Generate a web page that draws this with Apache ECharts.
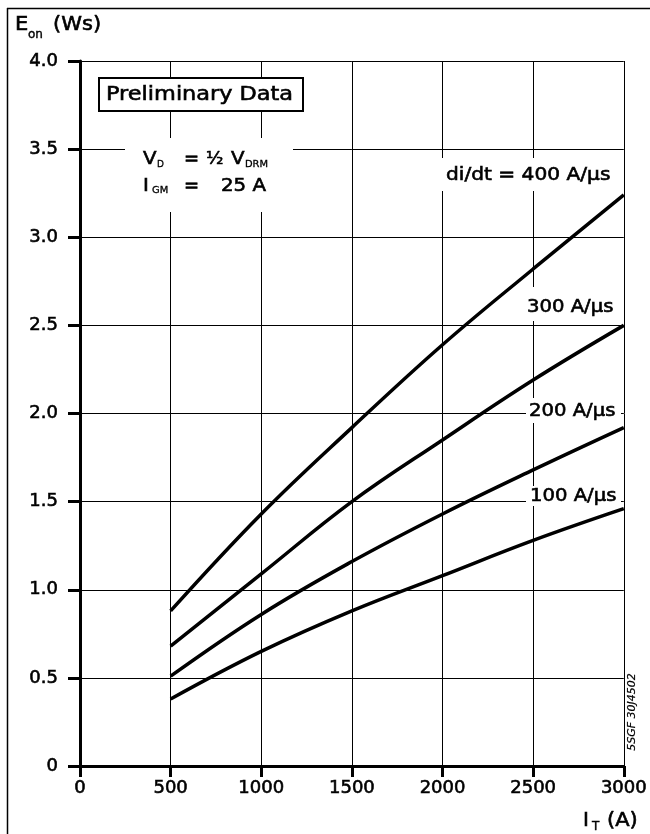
<!DOCTYPE html>
<html>
<head>
<meta charset="utf-8">
<script src="https://cdn.jsdelivr.net/npm/echarts@6/dist/echarts.min.js"></script>
<style>html,body{margin:0;padding:0;background:#fff}#c{width:650px;height:834px}</style>
</head>
<body>
<div id="c"></div>
<script>
// ---- data ----
const currentA = [500, 1000, 1500, 2000, 2500, 3000];
const eon400 = [0.88, 1.43, 1.92, 2.39, 2.82, 3.24];
const eon300 = [0.68, 1.09, 1.50, 1.85, 2.19, 2.50];
const eon200 = [0.51, 0.86, 1.16, 1.43, 1.68, 1.92];
const eon100 = [0.38, 0.65, 0.88, 1.08, 1.28, 1.46];
const seriesNames = ['400 A/μs', '300 A/μs', '200 A/μs', '100 A/μs'];
const xTicks = [0, 500, 1000, 1500, 2000, 2500, 3000];
const yTicks = [0, 0.5, 1.0, 1.5, 2.0, 2.5, 3.0, 3.5, 4.0];

const FONT = 'DejaVu Sans';
const SW = 0.6; // slight stroke to thicken glyphs
const chart = echarts.init(document.getElementById('c'), null, {renderer: 'canvas'});

function pairs(ys) { return currentA.map((x, i) => [x, ys[i]]); }
function lineSeries(name, ys) {
  return {
    name: name, type: 'line', data: pairs(ys), smooth: 0.4,
    showSymbol: false, symbol: 'none',
    lineStyle: {color: '#000', width: 3.5},
    z: 3
  };
}
function txt(x, y, text, size, opts) {
  opts = opts || {};
  return {
    type: 'text', x: x, y: y, z: 60,
    scaleX: opts.sx || 1, scaleY: 1,
    rotation: opts.rot || 0,
    style: {
      text: text,
      font: (opts.italic ? 'italic ' : '') + size + 'px "' + FONT + '"',
      fill: '#000',
      stroke: '#000', lineWidth: opts.sw != null ? opts.sw : SW,
      align: opts.align || 'left', verticalAlign: 'middle',
      textAlign: opts.align || 'left', textVerticalAlign: 'middle'
    }
  };
}
function box(x, y, w, h, border) {
  return {
    type: 'rect', z: 55,
    shape: {x: x, y: y, width: w, height: h},
    style: {fill: '#fff', stroke: border ? '#000' : null, lineWidth: border ? 2 : 0}
  };
}

const labelStyle = {fontSize: 18, fontFamily: FONT, color: '#000',
  textBorderColor: '#000', textBorderWidth: SW};

const option = {
  animation: false,
  backgroundColor: '#fff',
  grid: {left: 80, right: 24, top: 61, bottom: 68, containLabel: false},
  xAxis: {
    type: 'value', min: xTicks[0], max: xTicks[xTicks.length - 1], interval: 500,
    axisLine: {show: true, onZero: false, lineStyle: {color: '#000', width: 3}},
    axisTick: {show: true, length: 11, lineStyle: {color: '#000', width: 3}},
    axisLabel: Object.assign({margin: 13, formatter: v => String(v)}, labelStyle),
    splitLine: {show: true, lineStyle: {color: '#000', width: 1}}
  },
  yAxis: {
    type: 'value', min: yTicks[0], max: yTicks[yTicks.length - 1], interval: 0.5,
    axisLine: {show: true, onZero: false, lineStyle: {color: '#000', width: 3}},
    axisTick: {show: true, length: 12, lineStyle: {color: '#000', width: 3}},
    axisLabel: Object.assign({margin: 22, formatter: v => v === 0 ? '0' : v.toFixed(1)}, labelStyle),
    splitLine: {show: true, lineStyle: {color: '#000', width: 1}}
  },
  series: [
    lineSeries(seriesNames[0], eon400),
    lineSeries(seriesNames[1], eon300),
    lineSeries(seriesNames[2], eon200),
    lineSeries(seriesNames[3], eon100)
  ],
  graphic: [
    // outer frame (left + top)
    {type: 'line', z: 60, shape: {x1: 7.5, y1: 8, x2: 7.5, y2: 834}, style: {stroke: '#000', lineWidth: 1.5}},
    {type: 'line', z: 60, shape: {x1: 7, y1: 8.5, x2: 650, y2: 8.5}, style: {stroke: '#000', lineWidth: 1.5}},
    // axis titles
    txt(15, 25, 'E', 20, {sx: 1.05}),
    txt(28, 35, 'on', 12, {sw: 0.4}),
    txt(53, 25, '(Ws)', 20, {sx: 1.05}),
    txt(583, 821, 'I', 20),
    txt(592, 827, 'T', 12, {sw: 0.4}),
    txt(607, 821, '(A)', 20, {sx: 1.05}),
    // Preliminary data box
    box(99, 78, 204, 33, true),
    txt(106, 95, 'Preliminary Data', 20, {sx: 1.12}),
    // conditions
    box(125, 138, 168, 74, false),
    txt(143, 159, 'V', 18, {sx: 1.1}),
    txt(157, 164.5, 'D', 9, {sw: 0.3}),
    txt(184, 159, '=', 18, {sx: 1.0}),
    txt(206, 159, '½', 18, {sx: 1.0}),
    txt(231, 159, 'V', 18, {sx: 1.1}),
    txt(245, 164.5, 'DRM', 9, {sx: 1.1, sw: 0.3}),
    txt(143, 186, 'I', 18, {sx: 1.1}),
    txt(152, 191, 'GM', 9, {sx: 1.1, sw: 0.3}),
    txt(184, 186, '=', 18, {sx: 1.0}),
    txt(221, 186, '25 A', 18, {sx: 1.1}),
    // curve labels
    box(440, 158, 175, 33, false),
    txt(446, 175.5, 'di/dt = 400 A/μs', 18, {sx: 1.12}),
    box(522, 287, 95, 34, false),
    txt(527, 307.5, '300 A/μs', 18, {sx: 1.09}),
    box(526, 398, 95, 25, false),
    txt(529, 411, '200 A/μs', 18, {sx: 1.09}),
    box(526, 486, 95, 20, false),
    txt(530, 496.5, '100 A/μs', 18, {sx: 1.09}),
    // drawing number
    txt(632, 712, '5SGF 30J4502', 11, {rot: Math.PI / 2, align: 'center', italic: true, sw: 0.2})
  ]
};
chart.setOption(option);
</script>
</body>
</html>
